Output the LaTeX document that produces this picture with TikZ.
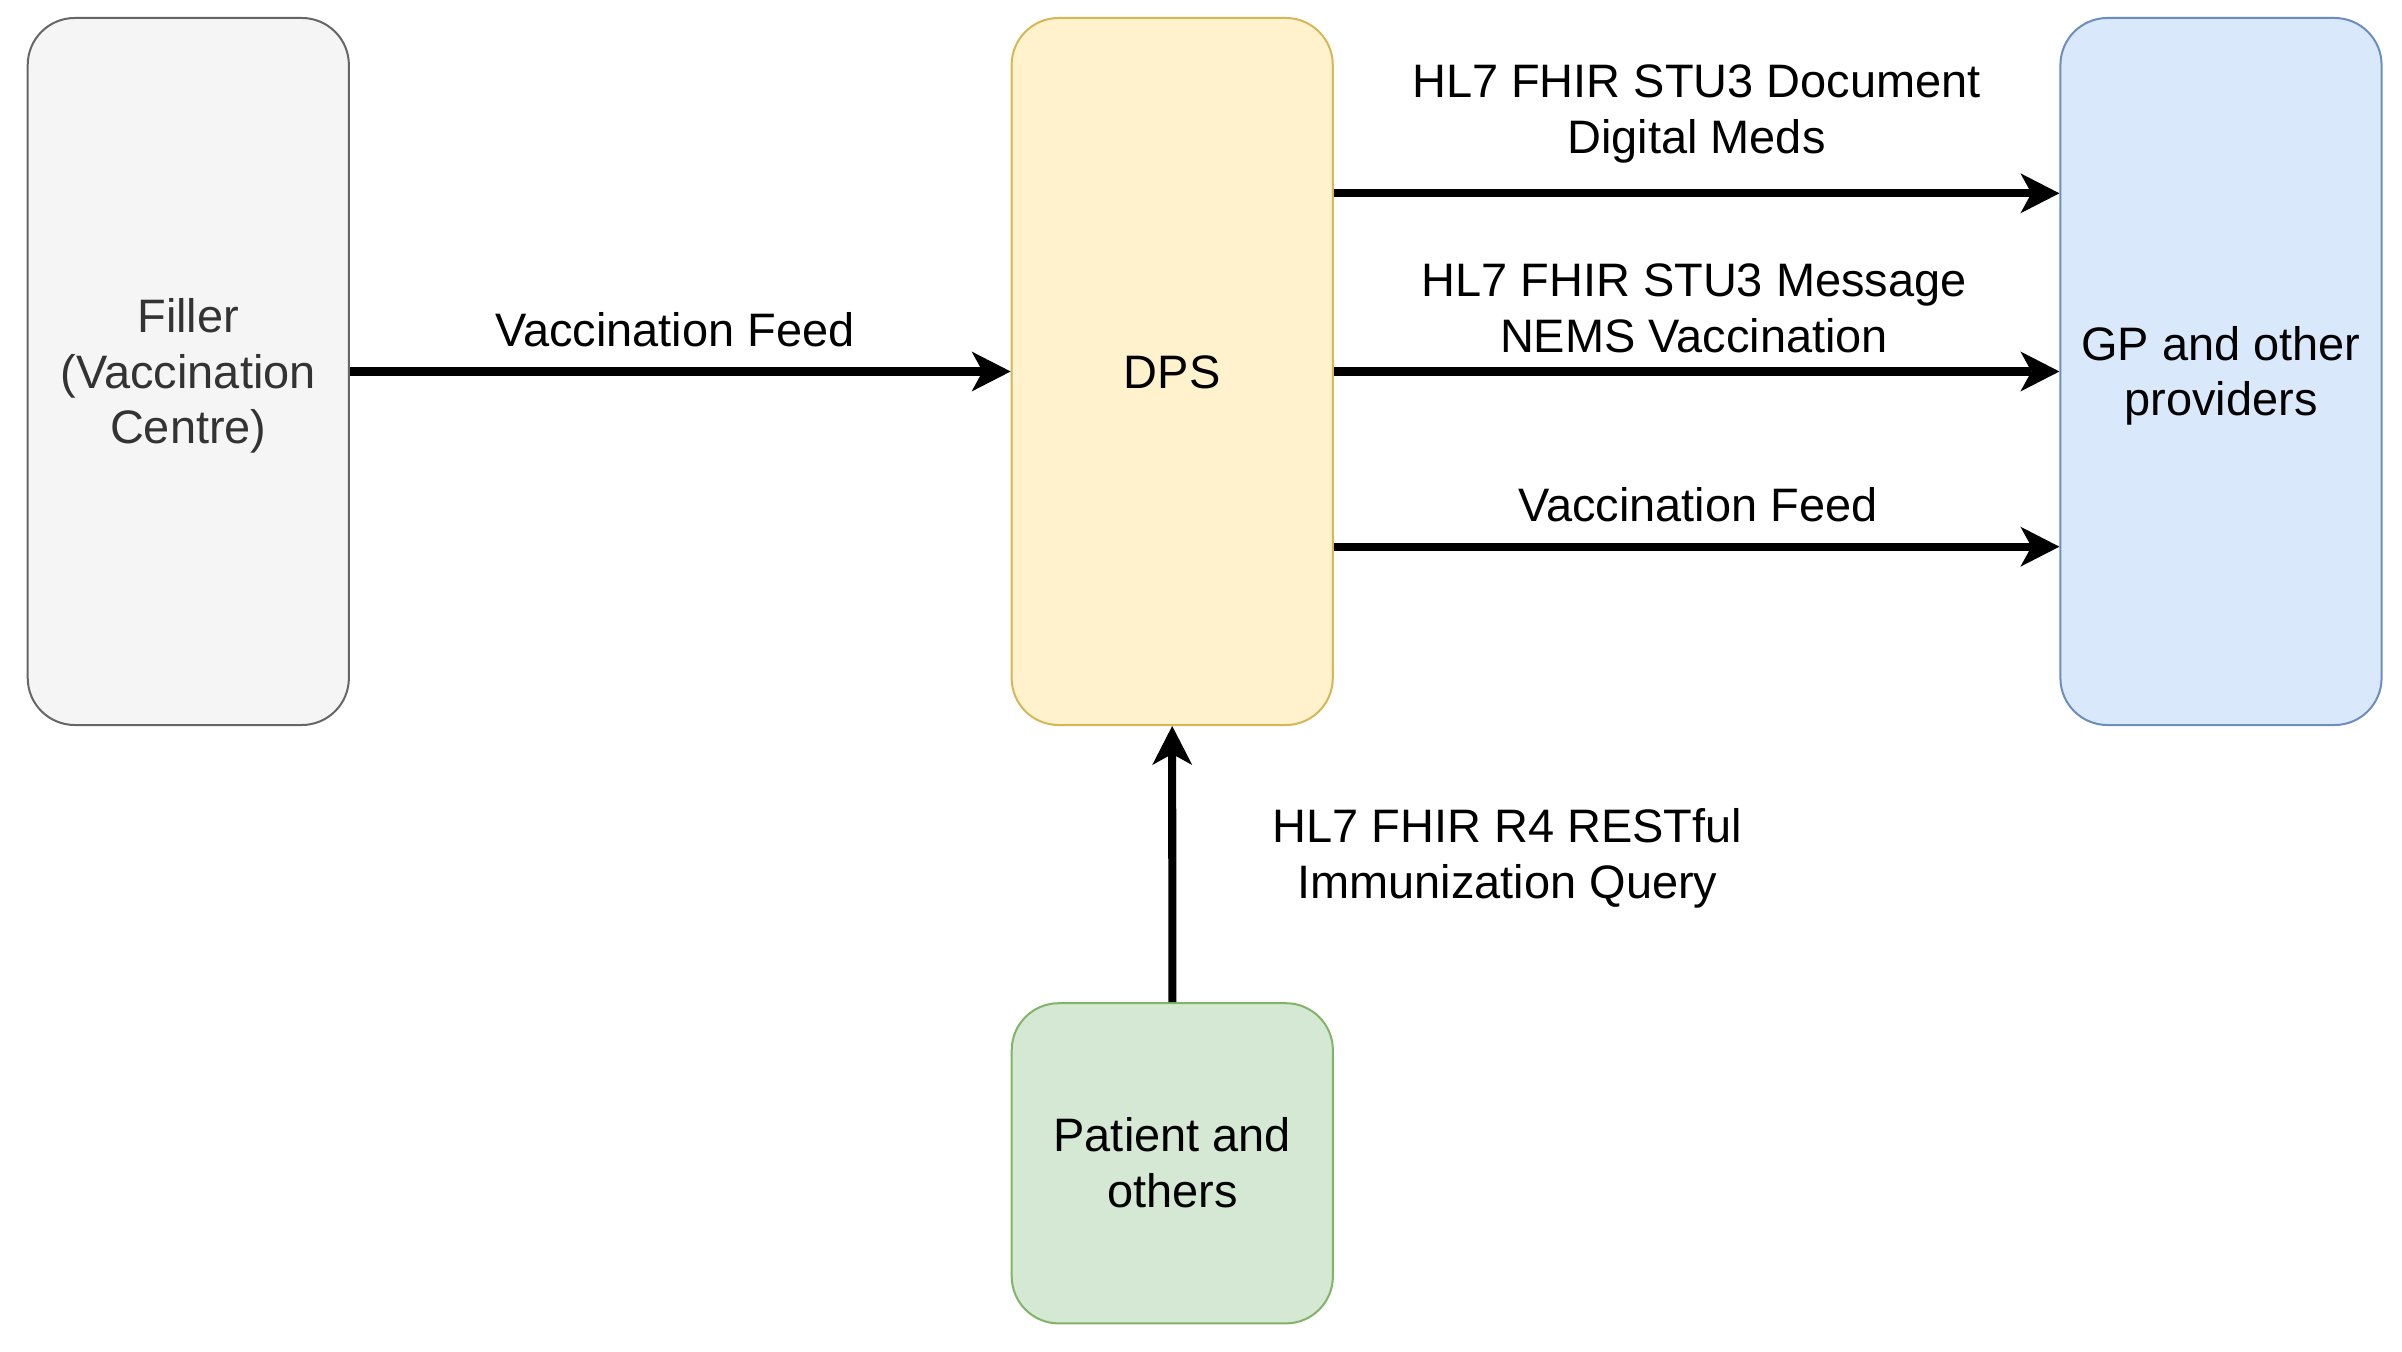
\documentclass[tikz,border=0pt]{standalone}
\usepackage{fontspec}
\setmainfont{Liberation Sans}
\usetikzlibrary{arrows.meta}
\definecolor{fillgray}{HTML}{F5F5F5}
\definecolor{strokegray}{HTML}{666666}
\definecolor{textgray}{HTML}{333333}
\definecolor{fillyellow}{HTML}{FFF2CC}
\definecolor{strokeyellow}{HTML}{D6B656}
\definecolor{fillblue}{HTML}{DAE8FC}
\definecolor{strokeblue}{HTML}{6C8EBF}
\definecolor{fillgreen}{HTML}{D5E8D4}
\definecolor{strokegreen}{HTML}{82B366}
\newcommand{\mystrut}{\rule[-0.10cm]{0pt}{0.53cm}}
\begin{document}
\begin{tikzpicture}[x=0.01cm,y=-0.01cm,
  box/.style={draw, rectangle, rounded corners=0.47cm, line width=0.57pt,
    minimum width=3.21cm, align=center, inner sep=0pt,
    font=\fontsize{13.35pt}{15.9pt}\selectfont},
  tallbox/.style={box, minimum height=7.066cm},
  squarebox/.style={box, minimum height=3.20cm},
  lbl/.style={inner sep=0pt, align=center, font=\fontsize{13.35pt}{15.9pt}\selectfont},
  flow/.style={line width=2.28pt,
    -{Stealth[length=0.39cm,width=0.40cm,inset=0.11cm,line width=0pt]}}
]
\fill[white] (0,0) rectangle (2402,1352);
\useasboundingbox (0,0) rectangle (2402,1352);

\node[tallbox, fill=fillgray, draw=strokegray, text=textgray] (filler) at (188.3,371.5)
  {\mystrut Filler\\\mystrut(Vaccination\\\mystrut Centre)};
\node[tallbox, fill=fillyellow, draw=strokeyellow] (dps) at (1172.2,371.5)
  {\mystrut DPS};
\node[tallbox, fill=fillblue, draw=strokeblue] (gp) at (2221,371.5)
  {\mystrut GP and other\\\mystrut providers};
\node[squarebox, fill=fillgreen, draw=strokegreen] (patient) at (1172.3,1163.3)
  {\mystrut Patient and\\\mystrut others};

\coordinate (ya) at (0,193.3);
\coordinate (yc) at (0,546.7);

\draw[flow] (filler.east) -- (dps.west);
\draw[flow] (dps.east |- ya) -- (gp.west |- ya);
\draw[flow] (dps.east) -- (gp.west);
\draw[flow] (dps.east |- yc) -- (gp.west |- yc);
\draw[flow] (patient.north) -- (dps.south);

\node[lbl] (lfeed) at (675,330.2) {\mystrut Vaccination Feed};
\node[lbl] (ldoc) at (1696.5,109.2) {\mystrut HL7 FHIR STU3 Document\\\mystrut Digital Meds};
\node[lbl] (lmsg) at (1694,308.4) {\mystrut HL7 FHIR STU3 Message\\\mystrut NEMS Vaccination};
\node[lbl] (lfeed2) at (1698,505.2) {\mystrut Vaccination Feed};
\node[lbl] (lquery) at (1507.5,854.2) {\mystrut HL7 FHIR R4 RESTful\\\mystrut Immunization Query};
\end{tikzpicture}
\end{document}
